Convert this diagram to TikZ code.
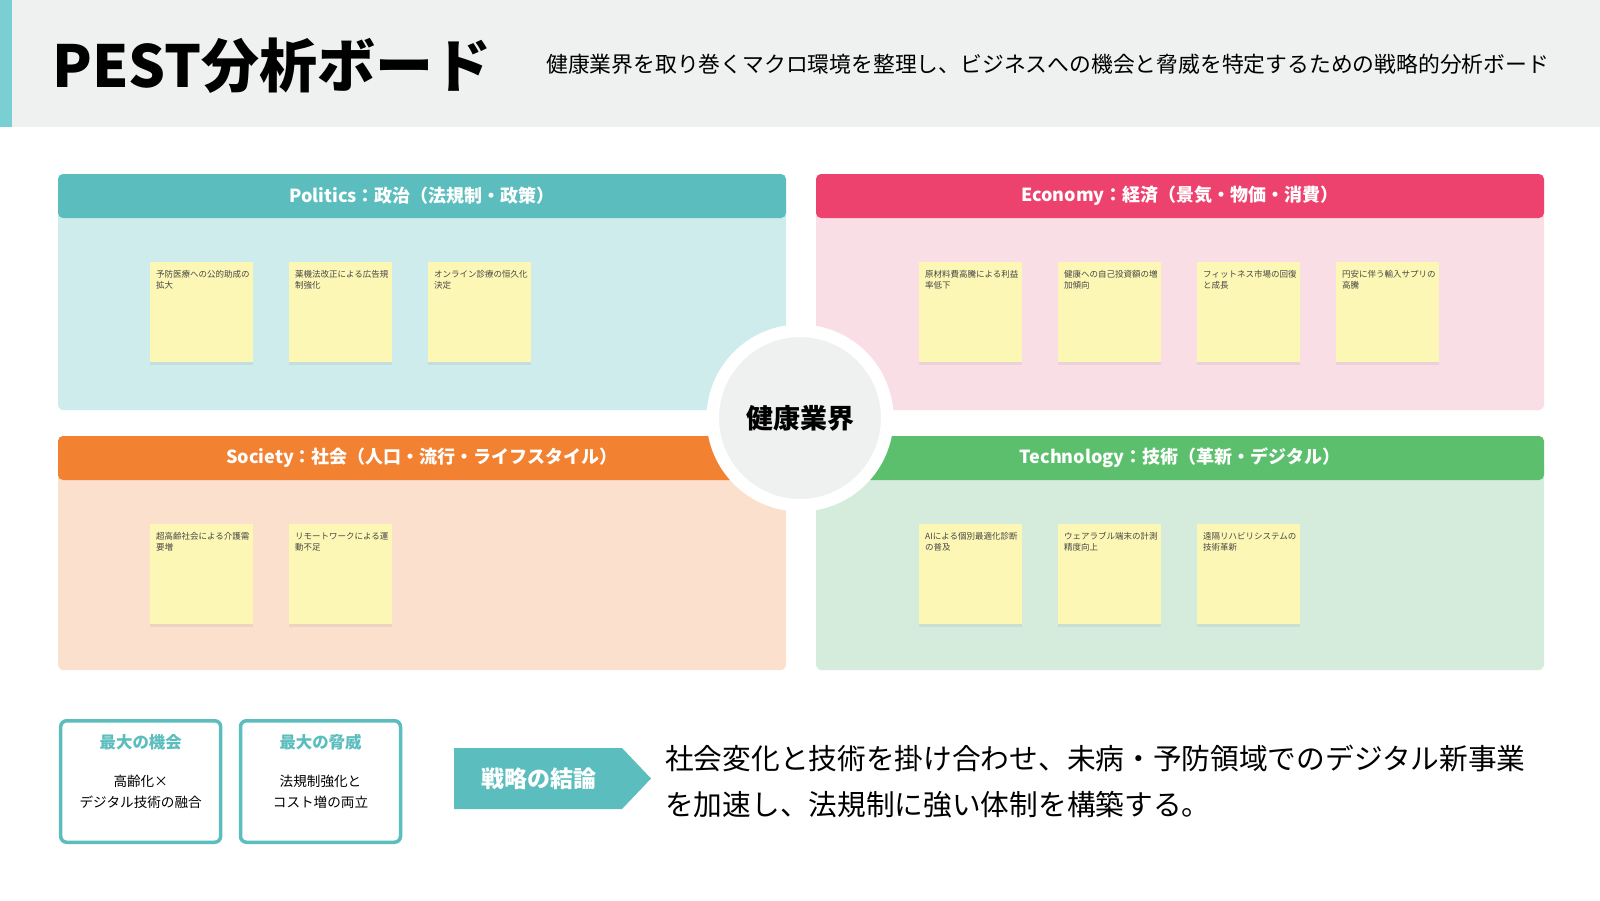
\documentclass[tikz,border=0pt]{standalone}
\usepackage{fontspec}
\setmainfont{Noto Sans CJK JP}
\usetikzlibrary{positioning, shadows}
\definecolor{headbg}{RGB}{239,241,241}
\definecolor{accent}{RGB}{122,207,210}
\definecolor{polhead}{RGB}{91,189,189}
\definecolor{polbody}{RGB}{206,236,236}
\definecolor{ecohead}{RGB}{238,66,110}
\definecolor{ecobody}{RGB}{249,222,230}
\definecolor{sochead}{RGB}{242,130,50}
\definecolor{socbody}{RGB}{252,224,206}
\definecolor{techhead}{RGB}{92,191,110}
\definecolor{techbody}{RGB}{213,236,221}
\definecolor{notecolor}{RGB}{253,247,181}
\definecolor{notetxt}{RGB}{70,70,70}
\definecolor{hubgray}{RGB}{239,241,241}

\tikzset{
    panelhead/.style={rectangle, rounded corners=5pt, minimum width=728pt, minimum height=44pt,
        inner sep=0pt, text=white, font=\fontsize{18}{18}\selectfont\bfseries},
    panelbody/.style={rectangle, rounded corners=6pt, minimum width=728pt, minimum height=214pt, anchor=north},
    stickynote/.style={rectangle, fill=notecolor, minimum width=103pt, minimum height=100pt,
        anchor=north west, drop shadow={shadow xshift=0pt, shadow yshift=-2.5pt, opacity=0.12}},
    notetext/.style={anchor=north west, align=left, inner sep=0pt, text=notetxt,
        font=\fontsize{8.5}{11.5}\selectfont},
    hub/.style={circle, fill=hubgray, draw=white, line width=12.5pt, minimum size=174.5pt,
        inner sep=0pt, font=\fontsize{27}{27}\selectfont\bfseries},
    sumbox/.style={rectangle, rounded corners=6pt, draw=polhead, line width=3.5pt, fill=white,
        minimum width=160pt, minimum height=121.5pt},
    sumtitle/.style={inner sep=0pt, text=polhead, font=\fontsize{16.4}{17}\selectfont\bfseries},
    sumtext/.style={inner sep=0pt, align=center, font=\fontsize{13.6}{21}\selectfont}
}

\begin{document}
\begin{tikzpicture}[x=1pt, y=-1pt]
        \useasboundingbox (0,0) rectangle (1600,900);
        \fill[white] (0,0) rectangle (1600,900);

        % ヘッダー
        \fill[headbg] (0,0) rectangle (1600,127);
        \fill[accent] (0,0) rectangle (12,127);
        \node[anchor=west, inner sep=0pt, font=\fontsize{58}{58}\selectfont\bfseries] (title) at (52,66) {PEST分析ボード};
        \node[anchor=west, inner sep=0pt, font=\fontsize{21.8}{22}\selectfont] (subtitle) at (546,64)
            {健康業界を取り巻くマクロ環境を整理し、ビジネスへの機会と脅威を特定するための戦略的分析ボード};

        % 4つのパネル
        \node[panelbody, fill=polbody] (polbox) at (422,196) {};
        \node[panelhead, fill=polhead] (pol) at (422,196) {Politics：政治（法規制・政策）};

        \node[panelbody, fill=ecobody] (ecobox) at (1180,196) {};
        \node[panelhead, fill=ecohead] (eco) at (1180,196) {Economy：経済（景気・物価・消費）};

        \node[panelbody, fill=socbody, minimum height=212pt] (socbox) at (422,458) {};
        \node[panelhead, fill=sochead] (soc) at (422,458) {Society：社会（人口・流行・ライフスタイル）};

        \node[panelbody, fill=techbody, minimum height=212pt] (techbox) at (1180,458) {};
        \node[panelhead, fill=techhead] (tech) at (1180,458) {Technology：技術（革新・デジタル）};

        % 付箋
        \foreach \i/\x/\txt in {1/150/{予防医療への公的助成の\\拡大}, 2/289/{薬機法改正による広告規\\制強化},
                                3/428/{オンライン診療の恒久化\\決定}} {
            \node[stickynote] (pnote\i) at (\x,262) {};
            \node[notetext] at ([xshift=6pt, yshift=-8pt]pnote\i.north west) {\txt};
        }
        \foreach \i/\x/\txt in {1/919/{原材料費高騰による利益\\率低下}, 2/1058/{健康への自己投資額の増\\加傾向},
                                3/1197/{フィットネス市場の回復\\と成長}, 4/1336/{円安に伴う輸入サプリの\\高騰}} {
            \node[stickynote] (enote\i) at (\x,262) {};
            \node[notetext] at ([xshift=6pt, yshift=-8pt]enote\i.north west) {\txt};
        }
        \foreach \i/\x/\txt in {1/150/{超高齢社会による介護需\\要増}, 2/289/{リモートワークによる運\\動不足}} {
            \node[stickynote] (snote\i) at (\x,524) {};
            \node[notetext] at ([xshift=6pt, yshift=-8pt]snote\i.north west) {\txt};
        }
        \foreach \i/\x/\txt in {1/919/{AIによる個別最適化診断\\の普及}, 2/1058/{ウェアラブル端末の計測\\精度向上},
                                3/1197/{遠隔リハビリシステムの\\技術革新}} {
            \node[stickynote] (tnote\i) at (\x,524) {};
            \node[notetext] at ([xshift=6pt, yshift=-8pt]tnote\i.north west) {\txt};
        }

        % 中心
        \node[hub] (center) at (800,418) {健康業界};

        % まとめ
        \node[sumbox] (opp) at (140.7,781.5) {};
        \node[sumtitle] (opptitle) at (140.7,742) {最大の機会};
        \node[sumtext] (opptext) at (140.7,791.5) {高齢化×\\デジタル技術の融合};

        \node[sumbox] (threat) at (320.5,781.5) {};
        \node[sumtitle] (threattitle) at (320.5,742) {最大の脅威};
        \node[sumtext] (threattext) at (320.5,791.5) {法規制強化と\\コスト増の両立};

        \fill[polhead] (454,748) -- (622,748) -- (651,778.5) -- (622,809) -- (454,809) -- cycle;
        \node[text=white, inner sep=0pt, font=\fontsize{23}{23}\selectfont\bfseries] (concl) at (539,778.5) {戦略の結論};
        \node[anchor=west, align=left, inner sep=0pt, font=\fontsize{28.7}{46}\selectfont] (verdict) at (665,782)
            {社会変化と技術を掛け合わせ、未病・予防領域でのデジタル新事業\\を加速し、法規制に強い体制を構築する。};

    \end{tikzpicture}
\end{document}
